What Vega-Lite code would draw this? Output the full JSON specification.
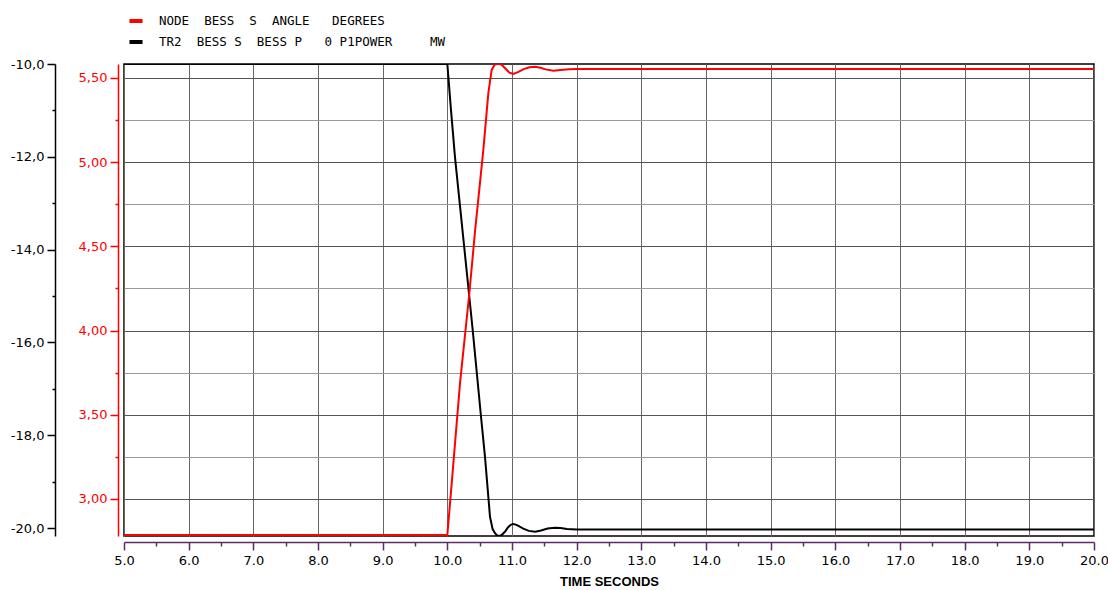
{
  "$schema": "https://vega.github.io/schema/vega-lite/v6.json",
  "autosize": {"type": "none"},
  "width": 970,
  "height": 472,
  "padding": {"left": 124, "top": 64, "right": 14, "bottom": 54},
  "background": "white",
  "config": {
    "view": {"stroke": "#000000", "strokeWidth": 1.5},
    "font": "DejaVu Sans"
  },
  "datasets": {
    "angle": [
      {"t": 5.0, "v": 2.786, "s": "NODE  BESS  S  ANGLE   DEGREES"},
      {"t": 10.0, "v": 2.786, "s": "NODE  BESS  S  ANGLE   DEGREES"},
      {"t": 10.067, "v": 3.09, "s": "NODE  BESS  S  ANGLE   DEGREES"},
      {"t": 10.196, "v": 3.687, "s": "NODE  BESS  S  ANGLE   DEGREES"},
      {"t": 10.34, "v": 4.22, "s": "NODE  BESS  S  ANGLE   DEGREES"},
      {"t": 10.43, "v": 4.597, "s": "NODE  BESS  S  ANGLE   DEGREES"},
      {"t": 10.556, "v": 5.07, "s": "NODE  BESS  S  ANGLE   DEGREES"},
      {"t": 10.634, "v": 5.41, "s": "NODE  BESS  S  ANGLE   DEGREES"},
      {"t": 10.686, "v": 5.548, "s": "NODE  BESS  S  ANGLE   DEGREES"},
      {"t": 10.73, "v": 5.578, "s": "NODE  BESS  S  ANGLE   DEGREES"},
      {"t": 10.79, "v": 5.586, "s": "NODE  BESS  S  ANGLE   DEGREES"},
      {"t": 10.84, "v": 5.578, "s": "NODE  BESS  S  ANGLE   DEGREES"},
      {"t": 10.9, "v": 5.555, "s": "NODE  BESS  S  ANGLE   DEGREES"},
      {"t": 10.96, "v": 5.532, "s": "NODE  BESS  S  ANGLE   DEGREES"},
      {"t": 11.02, "v": 5.524, "s": "NODE  BESS  S  ANGLE   DEGREES"},
      {"t": 11.1, "v": 5.536, "s": "NODE  BESS  S  ANGLE   DEGREES"},
      {"t": 11.18, "v": 5.553, "s": "NODE  BESS  S  ANGLE   DEGREES"},
      {"t": 11.27, "v": 5.564, "s": "NODE  BESS  S  ANGLE   DEGREES"},
      {"t": 11.356, "v": 5.567, "s": "NODE  BESS  S  ANGLE   DEGREES"},
      {"t": 11.44, "v": 5.561, "s": "NODE  BESS  S  ANGLE   DEGREES"},
      {"t": 11.52, "v": 5.551, "s": "NODE  BESS  S  ANGLE   DEGREES"},
      {"t": 11.64, "v": 5.543, "s": "NODE  BESS  S  ANGLE   DEGREES"},
      {"t": 11.75, "v": 5.548, "s": "NODE  BESS  S  ANGLE   DEGREES"},
      {"t": 11.88, "v": 5.552, "s": "NODE  BESS  S  ANGLE   DEGREES"},
      {"t": 12.0, "v": 5.553, "s": "NODE  BESS  S  ANGLE   DEGREES"},
      {"t": 20.0, "v": 5.553, "s": "NODE  BESS  S  ANGLE   DEGREES"}
    ],
    "power": [
      {"t": 5.0, "v": -10.0, "s": "TR2  BESS S  BESS P   0 P1POWER     MW"},
      {"t": 10.0, "v": -10.0, "s": "TR2  BESS S  BESS P   0 P1POWER     MW"},
      {"t": 10.057, "v": -11.0, "s": "TR2  BESS S  BESS P   0 P1POWER     MW"},
      {"t": 10.118, "v": -12.0, "s": "TR2  BESS S  BESS P   0 P1POWER     MW"},
      {"t": 10.324, "v": -14.8, "s": "TR2  BESS S  BESS P   0 P1POWER     MW"},
      {"t": 10.392, "v": -15.73, "s": "TR2  BESS S  BESS P   0 P1POWER     MW"},
      {"t": 10.516, "v": -17.53, "s": "TR2  BESS S  BESS P   0 P1POWER     MW"},
      {"t": 10.582, "v": -18.46, "s": "TR2  BESS S  BESS P   0 P1POWER     MW"},
      {"t": 10.66, "v": -19.76, "s": "TR2  BESS S  BESS P   0 P1POWER     MW"},
      {"t": 10.7, "v": -20.02, "s": "TR2  BESS S  BESS P   0 P1POWER     MW"},
      {"t": 10.737, "v": -20.11, "s": "TR2  BESS S  BESS P   0 P1POWER     MW"},
      {"t": 10.77, "v": -20.16, "s": "TR2  BESS S  BESS P   0 P1POWER     MW"},
      {"t": 10.8, "v": -20.17, "s": "TR2  BESS S  BESS P   0 P1POWER     MW"},
      {"t": 10.84, "v": -20.15, "s": "TR2  BESS S  BESS P   0 P1POWER     MW"},
      {"t": 10.89, "v": -20.08, "s": "TR2  BESS S  BESS P   0 P1POWER     MW"},
      {"t": 10.94, "v": -19.98, "s": "TR2  BESS S  BESS P   0 P1POWER     MW"},
      {"t": 10.98, "v": -19.93, "s": "TR2  BESS S  BESS P   0 P1POWER     MW"},
      {"t": 11.02, "v": -19.91, "s": "TR2  BESS S  BESS P   0 P1POWER     MW"},
      {"t": 11.07, "v": -19.93, "s": "TR2  BESS S  BESS P   0 P1POWER     MW"},
      {"t": 11.12, "v": -19.97, "s": "TR2  BESS S  BESS P   0 P1POWER     MW"},
      {"t": 11.175, "v": -20.01, "s": "TR2  BESS S  BESS P   0 P1POWER     MW"},
      {"t": 11.26, "v": -20.06, "s": "TR2  BESS S  BESS P   0 P1POWER     MW"},
      {"t": 11.36, "v": -20.08, "s": "TR2  BESS S  BESS P   0 P1POWER     MW"},
      {"t": 11.45, "v": -20.05, "s": "TR2  BESS S  BESS P   0 P1POWER     MW"},
      {"t": 11.55, "v": -20.01, "s": "TR2  BESS S  BESS P   0 P1POWER     MW"},
      {"t": 11.66, "v": -19.99, "s": "TR2  BESS S  BESS P   0 P1POWER     MW"},
      {"t": 11.75, "v": -20.0, "s": "TR2  BESS S  BESS P   0 P1POWER     MW"},
      {"t": 11.85, "v": -20.02, "s": "TR2  BESS S  BESS P   0 P1POWER     MW"},
      {"t": 12.0, "v": -20.03, "s": "TR2  BESS S  BESS P   0 P1POWER     MW"},
      {"t": 20.0, "v": -20.03, "s": "TR2  BESS S  BESS P   0 P1POWER     MW"}
    ]
  },
  "encoding": {
    "x": {
      "field": "t",
      "type": "quantitative",
      "scale": {"domain": [5, 20], "nice": false, "zero": false},
      "axis": {
        "title": "TIME SECONDS",
        "titleFont": "Liberation Sans",
        "titleFontSize": 13,
        "titleFontWeight": "bold",
        "titleColor": "#000000",
        "titlePadding": 8,
        "values": [5, 5.5, 6, 6.5, 7, 7.5, 8, 8.5, 9, 9.5, 10, 10.5, 11, 11.5, 12, 12.5, 13, 13.5, 14, 14.5, 15, 15.5, 16, 16.5, 17, 17.5, 18, 18.5, 19, 19.5, 20],
        "labelExpr": "datum.value % 1 == 0 ? format(datum.value, '.1f') : ''",
        "labelFont": "DejaVu Sans",
        "labelFontSize": 13,
        "labelColor": "#000000",
        "labelPadding": 4,
        "labelFlush": false,
        "labelOverlap": false,
        "offset": 6,
        "domainColor": "#5a2d6a",
        "domainWidth": 1.5,
        "tickColor": "#5a2d6a",
        "tickWidth": 1.5,
        "tickSize": {"condition": {"test": "datum.value % 1 == 0", "value": 8}, "value": 4},
        "grid": true,
        "gridColor": {"condition": {"test": "datum.value % 1 == 0", "value": "#666666"}, "value": "transparent"},
        "gridWidth": 1
      }
    }
  },
  "layer": [
    {
      "data": {"name": "power"},
      "mark": {"type": "line", "strokeWidth": 2, "interpolate": "linear", "clip": true},
      "encoding": {
        "y": {
          "field": "v",
          "type": "quantitative",
          "scale": {"domain": [-20.17, -10], "nice": false, "zero": false},
          "axis": {
            "orient": "left",
            "offset": 69,
            "title": null,
            "values": [-20, -19, -18, -17, -16, -15, -14, -13, -12, -11, -10],
            "labelExpr": "datum.value % 2 == 0 ? replace(replace(format(datum.value, '.1f'), '.', ','), '\u2212', '-') : ''",
            "labelFont": "DejaVu Sans",
            "labelFontSize": 13,
            "labelColor": "#000000",
            "labelPadding": 3,
            "labelOverlap": false,
            "domainColor": "#000000",
            "domainWidth": 1.5,
            "tickColor": "#000000",
            "tickWidth": 1.5,
            "tickSize": {"condition": {"test": "datum.value % 2 == 0", "value": 8}, "value": 3},
            "grid": false
          }
        },
        "color": {
          "field": "s",
          "type": "nominal",
          "scale": {"domain": ["NODE  BESS  S  ANGLE   DEGREES", "TR2  BESS S  BESS P   0 P1POWER     MW"], "range": ["#ff0000", "#000000"]},
          "legend": {
            "orient": "none",
            "legendX": 3,
            "legendY": -52,
            "title": null,
            "symbolType": "stroke",
            "symbolStrokeWidth": 4,
            "symbolSize": 170,
            "labelOffset": 14,
            "labelFont": "DejaVu Sans Mono",
            "labelFontSize": 12.5,
            "labelLimit": 0,
            "labelColor": "#000000",
            "rowPadding": 4,
            "labelExpr": "replace(datum.label, / /g, '\u00a0')"
          }
        }
      }
    },
    {
      "data": {"name": "angle"},
      "mark": {"type": "line", "strokeWidth": 2, "interpolate": "linear", "clip": true},
      "encoding": {
        "y": {
          "field": "v",
          "type": "quantitative",
          "scale": {"domain": [2.78, 5.583], "nice": false, "zero": false},
          "axis": {
            "orient": "left",
            "offset": 6,
            "title": null,
            "values": [3.0, 3.25, 3.5, 3.75, 4.0, 4.25, 4.5, 4.75, 5.0, 5.25, 5.5],
            "labelExpr": "abs(datum.value * 2 - round(datum.value * 2)) < 0.001 ? replace(format(datum.value, '.2f'), '.', ',') : ''",
            "labelFont": "DejaVu Sans",
            "labelFontSize": 13,
            "labelColor": "#ff0000",
            "labelPadding": 3,
            "labelOverlap": false,
            "domainColor": "#ff0000",
            "domainWidth": 1.5,
            "tickColor": "#ff0000",
            "tickWidth": 1.5,
            "tickSize": {"condition": {"test": "abs(datum.value * 2 - round(datum.value * 2)) < 0.001", "value": 8}, "value": 3},
            "grid": true,
            "gridColor": {"condition": {"test": "abs(datum.value * 2 - round(datum.value * 2)) < 0.001", "value": "#555555"}, "value": "#999999"},
            "gridWidth": 1
          }
        },
        "color": {"field": "s", "type": "nominal"}
      }
    }
  ],
  "resolve": {"scale": {"y": "independent"}, "axis": {"y": "independent"}}
}
